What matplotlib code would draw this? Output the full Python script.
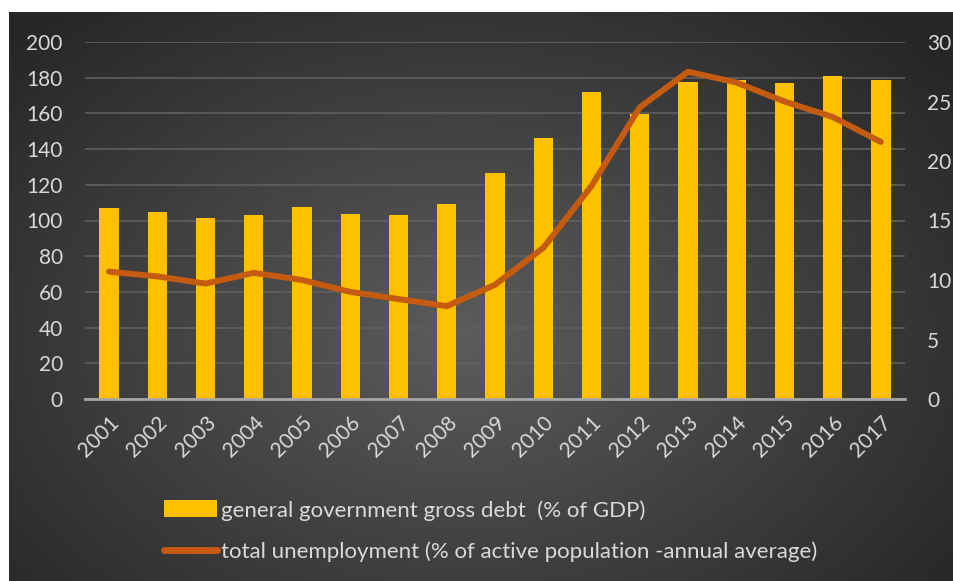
import numpy as np
import matplotlib
matplotlib.use("Agg")
import matplotlib.pyplot as plt
from matplotlib.lines import Line2D
from matplotlib.patches import Patch

years = [str(y) for y in range(2001, 2018)]
debt = [107.1, 104.9, 101.5, 102.9, 107.4, 103.6, 103.1, 109.4, 126.7, 146.2,
        172.1, 159.6, 177.4, 178.9, 176.9, 180.8, 178.6]
unemployment = [10.7, 10.3, 9.7, 10.6, 10.0, 9.0, 8.4, 7.8, 9.6, 12.7,
                17.9, 24.5, 27.5, 26.6, 25.0, 23.7, 21.6]

debt_label = "general government gross debt  (% of GDP)"
unemp_label = "total unemployment (% of active population -annual average)"

W, H = 954, 581
plt.rcParams['font.family'] = ['Lato', 'DejaVu Sans']
text_col = "#d9d9d9"
bar_col = "#ffc000"
line_col = "#c55a11"

fig = plt.figure(figsize=(W / 100, H / 100), dpi=100)
fig.patch.set_facecolor("white")

# radial gradient background
bg = fig.add_axes([9 / W, 0, 1 - 9 / W, 1 - 12 / H])
bg.set_axis_off()
yy, xx = np.mgrid[0:300, 0:500]
cx, cy = 240, 170
r = np.sqrt(((xx - cx) / 330.0) ** 2 + ((yy - cy) / 230.0) ** 2)
r = np.clip(r, 0, 1)
c0 = np.array([0x5c, 0x5c, 0x5c]) / 255
c1 = np.array([0x26, 0x26, 0x26]) / 255
img = c0[None, None, :] * (1 - r[..., None]) + c1[None, None, :] * r[..., None]
bg.imshow(img, aspect="auto", interpolation="bilinear")

left, right = 85 / W, 905 / W
bottom, top = 1 - 399 / H, 1 - 42 / H
ax = fig.add_axes([left, bottom, right - left, top - bottom])
ax.set_facecolor("none")
x = np.arange(len(years))
ax.bar(x, debt, width=0.4, color=bar_col, zorder=2)
ax.set_xlim(-0.5, len(years) - 0.5)
ax.set_ylim(0, 200)
ax.set_yticks(range(0, 201, 20))
ax.grid(axis="y", color="#5f5f5f", linewidth=1.2, zorder=0)
ax.set_axisbelow(True)
for s in ["top", "right", "left"]:
    ax.spines[s].set_visible(False)
ax.spines["bottom"].set_color("#a6a6a6")
ax.spines["bottom"].set_linewidth(2)
ax.tick_params(axis="both", length=0, colors=text_col, labelsize=15)
ax.tick_params(axis="y", pad=16)
ax.set_xticks(x)
ax.set_xticklabels(years, rotation=45, ha="right", rotation_mode="anchor")
ax.tick_params(axis="x", pad=10)

ax2 = ax.twinx()
ax2.plot(x, unemployment, color=line_col, linewidth=4.3, solid_capstyle="round",
         solid_joinstyle="round", zorder=3)
ax2.set_ylim(0, 30)
ax2.set_yticks(range(0, 31, 5))
for s in ax2.spines.values():
    s.set_visible(False)
ax2.tick_params(axis="y", length=0, colors=text_col, labelsize=15, pad=16)

handles = [Patch(facecolor=bar_col, edgecolor="none"),
           Line2D([0], [0], color=line_col, linewidth=5, solid_capstyle="round")]
fig.legend(handles, [debt_label, unemp_label], loc="upper left",
           bbox_to_anchor=(144 / W, 1 - 480 / H), frameon=False, fontsize=16,
           labelcolor=text_col, handlelength=2.4, handleheight=0.8,
           handletextpad=0.15, labelspacing=0.95)

fig.savefig("out.png", dpi=100)
